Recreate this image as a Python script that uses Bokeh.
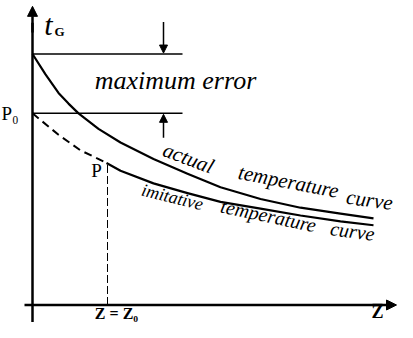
from bokeh.plotting import figure
from bokeh.models import Range1d, Arrow, NormalHead
from bokeh.core.properties import value
from bokeh.embed import file_html
from bokeh.resources import INLINE

# data (schematic units: z to the right, t upward)
actual_z = [0, 13, 26, 36, 46, 66, 88, 121, 155, 188, 228, 268, 308, 341]
actual_t = [258, 237, 218, 207, 197, 181, 167, 150, 135, 121, 109, 100, 94, 89]
imit_dash_z = [0, 26, 48, 74]
imit_dash_t = [197, 175, 159, 146]
imit_z = [74, 88, 121, 155, 188, 228, 268, 308, 341]
imit_t = [146, 138, 125, 115, 106, 99, 92, 86, 82]
t_top = 258
t_p0 = 197
z0 = 75
t_p = 146
level_end = 150
arrow_z = 131

p = figure(width=397, height=322, output_backend="svg", toolbar_location=None,
           x_range=Range1d(-32, 365), y_range=Range1d(-18, 313),
           x_axis_type=None, y_axis_type=None, min_border=0)
p.grid.visible = False
p.outline_line_color = None
p.background_fill_color = "white"

head = dict(fill_color="black", line_color="black")
# axes
p.line([0, 0], [-18, 290], line_color="black", line_width=2.5)
p.add_layout(Arrow(end=NormalHead(size=10, **head),
                   x_start=0, y_start=280, x_end=0, y_end=307, line_width=2.5))
p.line([-8, 350], [0, 0], line_color="black", line_width=2.5)
p.add_layout(Arrow(end=NormalHead(size=10, **head),
                   x_start=340, y_start=0, x_end=364, y_end=0, line_width=2.5))

# level lines and error arrows
p.line([0, level_end], [t_top, t_top], line_color="black", line_width=1.5)
p.line([0, level_end], [t_p0, t_p0], line_color="black", line_width=1.5)
p.add_layout(Arrow(end=NormalHead(size=8, **head),
                   x_start=arrow_z, y_start=291, x_end=arrow_z, y_end=t_top + 1, line_width=1.5))
p.add_layout(Arrow(end=NormalHead(size=8, **head),
                   x_start=arrow_z, y_start=172, x_end=arrow_z, y_end=t_p0 - 1, line_width=1.5))

# curves
p.line(actual_z, actual_t, line_color="black", line_width=2.2, line_join="round")
p.line(imit_dash_z, imit_dash_t, line_color="black", line_width=2, line_dash="8 5")
p.line(imit_z, imit_t, line_color="black", line_width=2.2, line_join="round")
p.line([z0, z0], [0, t_p], line_color="black", line_width=1, line_dash="8 3")

serif = value("Liberation Serif")
p.text(x=[16], y=[288], text=["t"], text_font=serif, text_font_style="italic",
       text_font_size="30px", text_align="center", text_baseline="middle")
p.text(x=[27], y=[281], text=["G"], text_font=serif, text_font_style="bold",
       text_font_size="13px", text_align="center", text_baseline="middle")
p.text(x=[143], y=[231], text=["maximum error"], text_font=serif, text_font_style="italic",
       text_font_size="26px", text_align="center", text_baseline="middle")
p.text(x=[-31], y=[197], text=["P₀"], text_font=serif,
       text_font_size="19px", text_align="left", text_baseline="middle")
p.text(x=[64], y=[138], text=["P"], text_font=serif,
       text_font_size="19px", text_align="center", text_baseline="middle")

words = ["actual", "temperature", "curve", "imitative", "temperature", "curve"]
wx = [156, 256, 337, 140, 236, 320]
wy = [151, 127, 108, 111, 92, 76]
wa = [-0.36, -0.19, -0.14, -0.24, -0.21, -0.14]
ws = ["21px", "21px", "21px", "18px", "20px", "20px"]
for w, x, y, a, s in zip(words, wx, wy, wa, ws):
    p.text(x=[x], y=[y], text=[w], angle=a, text_font=serif, text_font_style="italic",
           text_font_size=s, text_align="center", text_baseline="middle")

p.text(x=[84], y=[-9], text=["Z = Z₀"], text_font=serif, text_font_style="bold",
       text_font_size="16px", text_align="center", text_baseline="middle")
p.text(x=[345], y=[-7], text=["Z"], text_font=serif, text_font_style="bold",
       text_font_size="18px", text_align="center", text_baseline="middle")

open("out.html", "w").write(file_html(p, INLINE))
